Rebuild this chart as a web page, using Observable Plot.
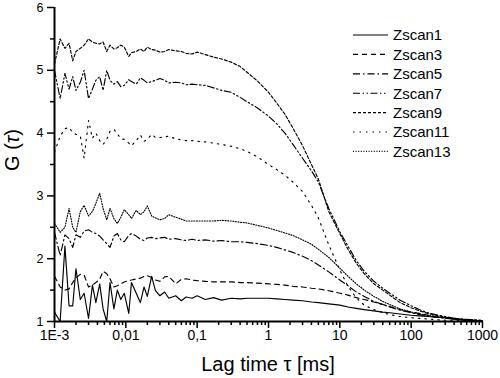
<!DOCTYPE html>
<html><head><meta charset="utf-8">
<script src="https://cdn.jsdelivr.net/npm/d3@7"></script>
<script src="https://cdn.jsdelivr.net/npm/@observablehq/plot@0.6"></script>
<style>body{margin:0;background:#fff}</style>
</head><body><div id="chart"></div>
<script>
// Lag times (ms)
const tau = [0.001, 0.0012, 0.0014, 0.0016, 0.0018, 0.002, 0.0023, 0.0026, 0.003, 0.0034, 0.0038, 0.0043, 0.0048, 0.0054, 0.006, 0.0068, 0.0076, 0.0085, 0.0095, 0.011, 0.012, 0.014, 0.016, 0.018, 0.02, 0.023, 0.026, 0.03, 0.035, 0.04, 0.05, 0.06, 0.07, 0.085, 0.1,
  0.13, 0.17, 0.22, 0.3, 0.4, 0.5, 0.7, 1, 1.3, 1.7, 2.2, 3, 4, 5, 7, 10, 13, 17, 22, 30, 40, 50, 70, 100, 130, 170, 220, 300, 400, 500, 700, 1000];

const zscan1 = [1.15, 1.0, 2.2, 1.25, 1.25, 1.84, 1.35, 1.45, 1.05, 1.58, 1.3, 1.6, 1.2, 1.0, 1.62, 1.2, 1.5, 1.35, 1.45, 1.13, 1.62, 1.45, 1.3, 1.55, 1.4, 1.72, 1.49, 1.41, 1.47, 1.37, 1.41, 1.33, 1.39, 1.37, 1.41,
  1.35, 1.38, 1.34, 1.37, 1.36, 1.37, 1.37, 1.37, 1.36, 1.35, 1.34, 1.33, 1.31, 1.3, 1.28, 1.26, 1.23, 1.21, 1.19, 1.17, 1.15, 1.14, 1.12, 1.1, 1.09, 1.08, 1.07, 1.06, 1.04, 1.03, 1.02, 1.01];
const zscan3 = [1.72, 1.55, 1.5, 1.52, 1.62, 1.7, 1.75, 1.74, 1.55, 1.58, 1.62, 1.67, 1.8, 1.76, 1.68, 1.55, 1.57, 1.6, 1.63, 1.65, 1.66, 1.68, 1.69, 1.72, 1.73, 1.7, 1.66, 1.64, 1.71, 1.72, 1.6, 1.67, 1.68, 1.66, 1.65,
  1.64, 1.63, 1.63, 1.63, 1.62, 1.62, 1.61, 1.6, 1.59, 1.58, 1.56, 1.55, 1.53, 1.52, 1.49, 1.45, 1.42, 1.38, 1.35, 1.31, 1.27, 1.24, 1.19, 1.15, 1.13, 1.1, 1.08, 1.06, 1.04, 1.03, 1.02, 1.01];
const zscan5 = [2.42, 2.05, 2.38, 2.32, 2.18, 2.38, 2.34, 2.44, 2.46, 2.42, 2.4, 2.36, 2.3, 2.24, 2.18, 2.36, 2.4, 2.3, 2.27, 2.37, 2.4, 2.36, 2.31, 2.29, 2.33, 2.34, 2.32, 2.33, 2.34, 2.31, 2.32, 2.3, 2.29, 2.31, 2.29,
  2.3, 2.28, 2.29, 2.27, 2.27, 2.26, 2.24, 2.21, 2.18, 2.14, 2.1, 2.04, 1.97, 1.9, 1.79, 1.66, 1.57, 1.47, 1.4, 1.32, 1.27, 1.23, 1.18, 1.14, 1.11, 1.09, 1.07, 1.05, 1.04, 1.03, 1.02, 1.01];
const zscan7 = [5.0, 4.55, 4.95, 4.7, 4.9, 4.68, 4.81, 5.0, 4.55, 4.7, 4.84, 4.9, 4.68, 5.0, 4.84, 4.78, 4.82, 4.74, 4.76, 4.85, 4.82, 4.78, 4.88, 4.84, 4.8, 4.82, 4.84, 4.87, 4.84, 4.8, 4.81, 4.8, 4.77, 4.78, 4.77,
  4.76, 4.72, 4.68, 4.65, 4.57, 4.5, 4.4, 4.27, 4.15, 4.0, 3.82, 3.6, 3.4, 3.22, 2.8, 2.43, 2.2, 1.97, 1.8, 1.64, 1.53, 1.45, 1.34, 1.25, 1.19, 1.14, 1.11, 1.08, 1.05, 1.04, 1.03, 1.02];
const zscan9 = [5.1, 5.5, 5.35, 5.43, 5.15, 5.3, 5.35, 5.4, 5.5, 5.45, 5.43, 5.42, 5.45, 5.3, 5.4, 5.34, 5.36, 5.4, 5.37, 5.22, 5.28, 5.3, 5.34, 5.3, 5.37, 5.33, 5.32, 5.29, 5.3, 5.33, 5.31, 5.3, 5.27, 5.26, 5.29,
  5.25, 5.21, 5.18, 5.13, 5.06, 4.97, 4.83, 4.65, 4.48, 4.3, 4.08, 3.8, 3.5, 3.27, 2.75, 2.4, 2.15, 1.93, 1.76, 1.6, 1.5, 1.42, 1.3, 1.22, 1.17, 1.13, 1.1, 1.07, 1.05, 1.04, 1.02, 1.01];
const zscan11 = [3.7, 3.95, 4.07, 4.09, 4.01, 3.98, 3.95, 3.6, 4.2, 3.92, 4.0, 3.88, 3.82, 3.9, 4.03, 4.06, 3.99, 3.91, 3.9, 3.84, 3.8, 3.88, 3.97, 3.87, 3.9, 3.98, 3.93, 3.93, 3.94, 3.95, 3.91, 3.89, 3.88, 3.88, 3.87,
  3.86, 3.84, 3.82, 3.79, 3.75, 3.71, 3.62, 3.5, 3.42, 3.33, 3.22, 3.07, 2.85, 2.65, 2.22, 1.82, 1.56, 1.38, 1.26, 1.19, 1.14, 1.11, 1.08, 1.06, 1.05, 1.04, 1.03, 1.02, 1.02, 1.01, 1.01, 1.01];
const zscan13 = [2.56, 2.42, 2.5, 2.8, 2.5, 2.42, 2.75, 2.85, 2.68, 2.75, 2.88, 3.04, 2.8, 2.62, 2.8, 2.64, 2.56, 2.66, 2.78, 2.7, 2.64, 2.77, 2.7, 2.75, 2.84, 2.68, 2.65, 2.62, 2.64, 2.7, 2.66, 2.63, 2.6, 2.6, 2.6,
  2.6, 2.6, 2.61, 2.6, 2.58, 2.57, 2.53, 2.49, 2.45, 2.41, 2.37, 2.3, 2.23, 2.15, 2.02, 1.85, 1.72, 1.6, 1.5, 1.4, 1.32, 1.27, 1.2, 1.15, 1.12, 1.1, 1.08, 1.06, 1.04, 1.03, 1.02, 1.01];

const seriesNames = ["Zscan1", "Zscan3", "Zscan5", "Zscan7", "Zscan9", "Zscan11", "Zscan13"];
const seriesValues = [zscan1, zscan3, zscan5, zscan7, zscan9, zscan11, zscan13];
const dashes = ["none", "5,4", "7,3,1.5,3", "7,2.5,1.5,2.5,1.5,2.5", "3,2", "1.5,5", "1,1.6"];

const xMajor = [0.001, 0.01, 0.1, 1, 10, 100, 1000];
const xLabels = ["1E-3", "0,01", "0,1", "1", "10", "100", "1000"];
const xMinor = [0.002, 0.003, 0.004, 0.005, 0.006, 0.007, 0.008, 0.009,
  0.02, 0.03, 0.04, 0.05, 0.06, 0.07, 0.08, 0.09,
  0.2, 0.3, 0.4, 0.5, 0.6, 0.7, 0.8, 0.9,
  2, 3, 4, 5, 6, 7, 8, 9,
  20, 30, 40, 50, 60, 70, 80, 90,
  200, 300, 400, 500, 600, 700, 800, 900];
const yMajor = [1, 2, 3, 4, 5, 6];
const yLabels = ["1", "2", "3", "4", "5", "6"];
const yMinor = [1.5, 2.5, 3.5, 4.5, 5.5];

const font = "Liberation Sans, Arial, sans-serif";

const lineMarks = seriesValues.map((vals, k) =>
  Plot.line(tau.map((t, i) => ({t, g: vals[i]})), {
    x: "t", y: "g", stroke: "black", strokeWidth: 1.15,
    strokeDasharray: dashes[k] === "none" ? undefined : dashes[k]
  })
);

const plot = Plot.plot({
  width: 500, height: 378,
  marginLeft: 54, marginRight: 18, marginTop: 7, marginBottom: 57,
  style: {fontFamily: font, background: "white", color: "black", overflow: "visible"},
  x: {type: "log", domain: [0.001, 1000]},
  y: {domain: [1, 6]},
  marks: [
    ...lineMarks,
    Plot.axisX({ticks: xMinor, tickSize: 4, tickFormat: () => "", strokeWidth: 1.5, label: null}),
    Plot.axisX({ticks: xMajor, tickSize: 7, tickFormat: () => "", strokeWidth: 1.5, label: null}),
    Plot.axisY({ticks: yMinor, tickSize: 4, tickFormat: () => "", strokeWidth: 1.5, label: null}),
    Plot.axisY({ticks: yMajor, tickSize: 7, tickFormat: () => "", strokeWidth: 1.5, label: null}),
    Plot.text(xMajor, {x: d => d, text: (d, i) => xLabels[i], frameAnchor: "bottom", lineAnchor: "top", dy: 9, fontSize: 14, fill: "black"}),
    Plot.text(yMajor, {y: d => d, text: (d, i) => yLabels[i], frameAnchor: "left", textAnchor: "end", dx: -11, fontSize: 12.5, fill: "black"}),
    Plot.ruleX([0.001], {strokeWidth: 2}),
    Plot.ruleY([1], {strokeWidth: 2})
  ]
});

const svg = d3.select(plot);
const lg = svg.append("g").attr("font-family", font).style("font-size", "15px").attr("text-anchor", "start");
seriesNames.forEach((name, i) => {
  const y = 35 + i * 19.4;
  const ln = lg.append("line").attr("x1", 353).attr("x2", 388).attr("y1", y).attr("y2", y)
    .attr("stroke", "black").attr("stroke-width", 1.15);
  if (dashes[i] !== "none") ln.attr("stroke-dasharray", dashes[i]);
  lg.append("text").attr("x", 393).attr("y", y).attr("dy", "0.36em").attr("fill", "black").text(name);
});

svg.append("text").attr("x", 268).attr("y", 371).attr("text-anchor", "middle")
  .attr("font-family", font).style("font-size", "20px").attr("fill", "black").text("Lag time τ [ms]");

const yt = svg.append("text").attr("transform", "translate(19,150) rotate(-90)").attr("text-anchor", "middle")
  .attr("font-family", font).style("font-size", "20px").attr("fill", "black");
yt.append("tspan").text("G (");
yt.append("tspan").attr("font-style", "italic").text("τ");
yt.append("tspan").text(")");

document.getElementById("chart").appendChild(plot);
</script>
</body></html>
